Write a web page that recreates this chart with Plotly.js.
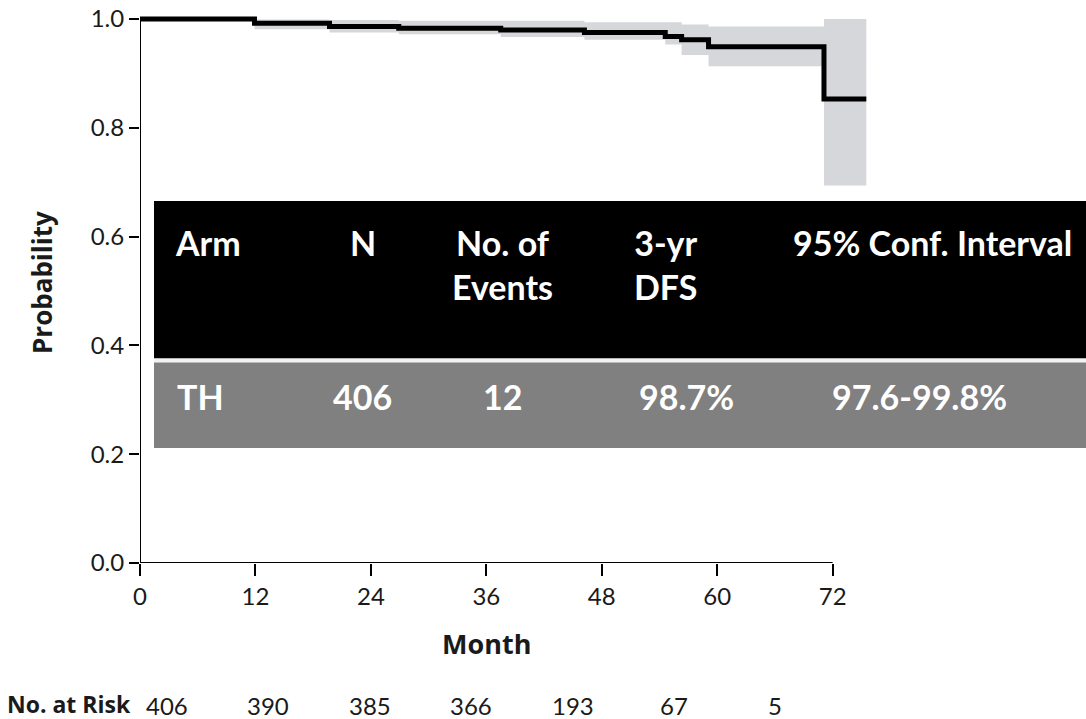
<!DOCTYPE html>
<html>
<head>
<meta charset="utf-8">
<script src="https://cdn.plot.ly/plotly-3.0.1.min.js"></script>
<style>
  html, body { margin: 0; padding: 0; background: #ffffff; overflow: hidden; }
  /* the figure is wider than the window and shifted left; the left strip lies outside the page */
  #chart { width: 1186px; height: 719px; margin-left: -100px; }
</style>
</head>
<body>
<div id="chart"></div>
<script>
// Kaplan-Meier disease-free survival, TH arm
const months   = [0, 11.9, 19.7, 26.9, 37.5, 46.2, 54.6, 56.3, 59.1, 71.1, 75.5];
const survival = [1.0, 0.992, 0.986, 0.983, 0.980, 0.975, 0.968, 0.962, 0.949, 0.853, 0.853];
const ciUpper  = [1.0, 0.999, 0.998, 0.997, 0.997, 0.994, 0.994, 0.990, 0.986, 1.0, 1.0];
const ciLower  = [1.0, 0.981, 0.975, 0.972, 0.967, 0.962, 0.953, 0.934, 0.913, 0.694, 0.694];

// Numbers at risk below the time axis
const atRisk = [406, 390, 385, 366, 193, 67, 5];

// Summary table drawn over the plot
const tableHeader = ["Arm", "N", "No. of<br>Events", "3-yr<br>DFS", "95% Conf. Interval"];
const tableRow    = ["TH", "406", "12", "98.7%", "97.6-99.8%"];

const yTicks    = [0, 0.2, 0.4, 0.6, 0.8, 1.0];
const yTickText = ["0.0", "0.2", "0.4", "0.6", "0.8", "1.0"];
const xTicks    = [0, 12, 24, 36, 48, 60, 72];

// Geometry in window pixels; OFF is the part of the figure hidden left of the window
const OFF = 100;
const W = 1186, H = 719;
const M = { l: 140 + OFF, r: 215, t: 11, b: 156 };
const plotW = W - M.l - M.r, plotH = H - M.t - M.b;
const px = x => (x + OFF - M.l) / plotW;     // window column -> paper x
const py = y => (H - M.b - y) / plotH;       // window row    -> paper y

const tickFont  = { family: "Lato, Noto Sans, sans-serif", size: 24, color: "#1a1a1a" };
const titleFam  = "Open Sans, DejaVu Sans, sans-serif";
const tblFont   = { family: "Lato, Open Sans, sans-serif", size: 34, color: "#ffffff", weight: 700 };

const traces = [
  { x: months, y: ciUpper, mode: "lines", line: { shape: "hv", width: 0, color: "rgba(0,0,0,0)" },
    hoverinfo: "skip", showlegend: false },
  { x: months, y: ciLower, mode: "lines", line: { shape: "hv", width: 0, color: "rgba(0,0,0,0)" },
    fill: "tonexty", fillcolor: "#d6d7db", hoverinfo: "skip", showlegend: false },
  { x: months, y: survival, mode: "lines", line: { shape: "hv", width: 5, color: "#000000" },
    showlegend: false }
];

const shapes = [
  // axis lines: time axis stops at 72 months, probability axis at 1.0
  { type: "line", xref: "x", yref: "y", x0: 0, x1: 72, y0: 0, y1: 0, line: { color: "#000", width: 2 }, layer: "above" },
  { type: "line", xref: "x", yref: "y", x0: 0, x1: 0, y0: 0, y1: 1.0, line: { color: "#000", width: 2 }, layer: "above" },
  // table: black header, thin light rule, grey body
  { type: "rect", xref: "paper", yref: "paper", x0: px(154), x1: px(1090), y0: py(201), y1: py(358.5),
    fillcolor: "#000000", line: { width: 0 }, layer: "above" },
  { type: "rect", xref: "paper", yref: "paper", x0: px(154), x1: px(1090), y0: py(358.5), y1: py(362.5),
    fillcolor: "#f2f2f2", line: { width: 0 }, layer: "above" },
  { type: "rect", xref: "paper", yref: "paper", x0: px(154), x1: px(1090), y0: py(362.5), y1: py(448),
    fillcolor: "#808080", line: { width: 0 }, layer: "above" }
];

const annotations = [];
// table text
const colX     = [173, 363, 502, 666, 932];
const colAlign = ["left", "center", "center", "center", "center"];
const rowX     = [175, 362, 502, 686, 919];
const rowAlign = ["left", "center", "center", "center", "center"];
tableHeader.forEach((t, i) => {
  annotations.push({ text: t, xref: "paper", yref: "paper", x: px(colX[i]), y: py(220),
    xanchor: colAlign[i], yanchor: "top", align: "center", showarrow: false, font: tblFont });
});
tableRow.forEach((t, i) => {
  annotations.push({ text: t, xref: "paper", yref: "paper", x: px(rowX[i]), y: py(396),
    xanchor: rowAlign[i], yanchor: "middle", showarrow: false, font: tblFont });
});
// axis titles: centred on the drawn axis lines
annotations.push({ text: "Month", xref: "x", yref: "paper", x: 36, y: py(643),
  xanchor: "center", yanchor: "middle", showarrow: false,
  font: { family: titleFam, size: 27, color: "#1a1a1a", weight: 700 } });
annotations.push({ text: "Probability", xref: "paper", yref: "paper", x: px(42), y: py(283), textangle: -90,
  xanchor: "center", yanchor: "middle", showarrow: false,
  font: { family: titleFam, size: 26, color: "#1a1a1a", weight: 700 } });
// numbers at risk, evenly spaced under the axis
const riskX0 = 167, riskStep = 101.4;
atRisk.forEach((n, i) => {
  annotations.push({ text: String(n), xref: "paper", yref: "paper", x: px(riskX0 + i * riskStep), y: py(705),
    xanchor: "center", yanchor: "middle", showarrow: false, font: tickFont });
});
annotations.push({ text: "No. at Risk", xref: "paper", yref: "paper", x: px(133), y: py(704),
  xanchor: "right", yanchor: "middle", showarrow: false,
  font: { family: titleFam, size: 23, color: "#1a1a1a", weight: 700 } });

const layout = {
  width: W, height: H,
  margin: M,
  paper_bgcolor: "#ffffff", plot_bgcolor: "#ffffff",
  showlegend: false,
  xaxis: {
    range: [0, plotW / 9.62], showgrid: false, zeroline: false, showline: false,
    tickmode: "array", tickvals: xTicks, ticks: "outside", ticklen: 12, tickwidth: 2, tickcolor: "#000",
    tickfont: tickFont
  },
  yaxis: {
    range: [0, 1 + 8 / 543.5], showgrid: false, zeroline: false, showline: false,
    tickmode: "array", tickvals: yTicks, ticktext: yTickText, ticks: "outside", ticklen: 10, tickwidth: 2, tickcolor: "#000",
    tickfont: tickFont
  },
  shapes: shapes,
  annotations: annotations
};

Plotly.newPlot("chart", traces, layout, { displayModeBar: false, staticPlot: true });
</script>
</body>
</html>
